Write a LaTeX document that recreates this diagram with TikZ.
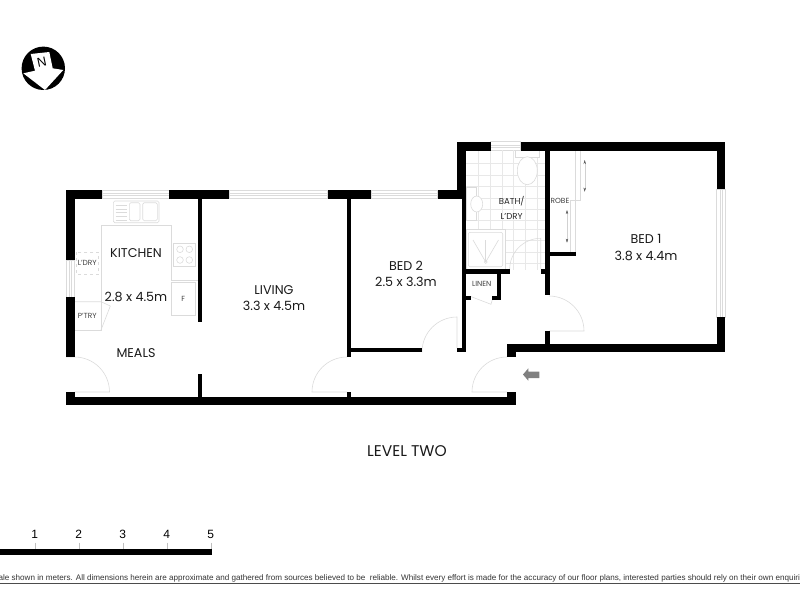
\documentclass[tikz,border=0pt]{standalone}
\usepackage{fontspec}
\setmainfont{Poppins}
\newfontfamily\notefont{Liberation Sans}
\usetikzlibrary{arrows.meta}
\tikzstyle{plan}=[
  x=1pt,y=-1pt,>=stealth
]
\tikzstyle{wall}=[
  fill=black
]
\tikzstyle{fixture}=[
  draw=black!14,line width=0.6pt
]
\tikzstyle{tile}=[
  draw=black!9,line width=0.4pt
]
\tikzstyle{slider}=[
  draw=black!18,line width=0.3pt,{Stealth[black!65,length=4pt,width=2.4pt]}-{Stealth[black!65,length=4pt,width=2.4pt]}
]
\tikzstyle{roomlabel}=[
  inner sep=0pt,text=black!90,font=\fontsize{12.7}{14}\selectfont
]
\tikzstyle{smalllabel}=[
  inner sep=0pt,text=black!75,font=\fontsize{7.4}{8}\selectfont
]
\tikzstyle{bathlabel}=[
  inner sep=0pt,text=black!85,font=\fontsize{8.6}{10}\selectfont
]
\tikzstyle{scalelabel}=[
  inner sep=0pt,font=\notefont\fontsize{12}{14}\selectfont
]
\begin{document}
\begin{tikzpicture}[plan]
  \useasboundingbox (0,0) rectangle (800,600);
  % windows
  \foreach \xa/\ya/\xb/\yb in {102/190/169/198.7,229/190/327.7/198.7,371/190/437.7/198.7,490.7/141.7/520.7/150.7}{
    \draw[fixture] (\xa,\ya) rectangle (\xb,\yb);
    \draw[fixture] (\xa,\ya+3.5) -- (\xb,\ya+3.5);
    \draw[fixture] (\xa,\ya+5.5) -- (\xb,\ya+5.5);
  }
  \foreach \xa/\ya/\xb/\yb in {66/260/74.5/297,716.7/189/725.3/317.3}{
    \draw[fixture] (\xa,\ya) rectangle (\xb,\yb);
    \draw[fixture] (\xa+3.5,\ya) -- (\xa+3.5,\yb);
    \draw[fixture] (\xa+5.5,\ya) -- (\xa+5.5,\yb);
  }
  % bathroom tiles
  \begin{scope}
    \clip (466,150.7) rectangle (545,269.3);
    \foreach \tx in {478,490,502,513.5,525,537}{
      \draw[tile] (\tx,150) -- (\tx,270);
    }
    \foreach \ty in {163,175,186,198,209,220,229,240,252,263}{
      \draw[tile] (466,\ty) -- (545,\ty);
    }
  \end{scope}
  % bathroom fittings
  \draw[fixture,fill=white] (515.3,150.7) rectangle (539.3,157.3);
  \draw[fixture,fill=white] (527.3,170.7) ellipse (10pt and 14pt);
  \draw[fixture,fill=white] (466,187.3) rectangle (476.7,220.7);
  \draw[fixture,fill=white] (476.7,204) ellipse (6pt and 8pt);
  \draw[fixture,fill=white] (466,229.3) rectangle (505.7,269.3);
  \draw[fixture,rounded corners=2pt] (468.3,232.3) rectangle (502.7,266.7);
  \draw[fixture] (485.7,262) circle (1.5pt);
  \foreach \dx in {473,485.7,498.5}{
    \draw[fixture] (485.7,262) -- (\dx,240);
  }
  % robe
  \draw[fixture] (575,150.7) -- (575,251.7);
  \draw[fixture] (580,150.7) -- (580,200.7) -- (570,200.7) -- (570,251.7);
  \draw[slider] (584.7,160) -- (584.7,191.7);
  \draw[slider] (567,210) -- (567,242.7);
  % kitchen joinery
  \draw[fixture] (171.7,225) -- (101,225) -- (101,330) -- (74.5,330);
  \draw[fixture] (74.5,301.7) -- (101,301.7) -- (110.3,306) -- (101,330);
  \draw[fixture] (171.7,225) -- (171.7,280) -- (197.7,280);
  \draw[fixture] (173.3,243.3) rectangle (195.7,266.7);
  \foreach \cx/\cy in {180/249.3,189.3/249.3,180/260,189.3/260}{
    \draw[fixture] (\cx,\cy) circle (3.3pt);
  }
  \draw[fixture] (171.7,282.3) rectangle (195.7,315.7);
  \draw[fixture,rounded corners=1.5pt] (113.3,201) rectangle (159,222.7);
  \draw[fixture,rounded corners=1.5pt] (129.3,202.7) rectangle (140,220.7);
  \draw[fixture,rounded corners=1.5pt] (142.7,202.7) rectangle (157.3,220.7);
  \foreach \ly in {205,208.8,212.6,216.4,220}{
    \draw[fixture] (115.7,\ly) -- (127.3,\ly);
  }
  \draw[fixture,dashed] (76,252.3) rectangle (98.7,274.3);
  % doors
  \draw[fixture] (66,357) -- (74.5,357) arc[start angle=90,end angle=0,radius=35pt] -- (74.5,392);
  \draw[fixture] (347,357) arc[start angle=90,end angle=180,radius=35pt] -- (347,392);
  \draw[fixture] (457,348) -- (457,317) arc[start angle=90,end angle=180,radius=35pt];
  \draw[fixture] (507,357) arc[start angle=90,end angle=180,radius=35pt] -- (507,392);
  \draw[fixture] (549,296) arc[start angle=90,end angle=0,radius=35pt] -- (549,331);
  \draw[fixture] (540.7,269.3) -- (540.7,238.3) arc[start angle=90,end angle=180,radius=31pt];
  \draw[fixture] (470.7,296.5) -- (491,304.3) -- (492.3,299.7);
  % walls
  \foreach \xa/\ya/\xb/\yb in {
    66/190/102/198.7,169/190/229/198.7,327.7/190/371/198.7,437.7/190/466/198.7,
    66/190/74.5/260,66/297/74.5/357,66/392/74.5/405.3,66/396.7/516.3/405.3,
    197.7/198/202.3/322,197.7/374/202.3/397,347.3/198/351.3/356.7,347.3/392/351.3/397,
    351/348/422/352.3,457/348/465.7/352.3,461.7/190/466/352.3,
    457.3/141.7/490.7/150.7,520.7/141.7/725.3/150.7,457.3/141.7/466/198.7,
    545/150/549.7/295.3,549.7/251.7/575.7/256,465.7/269.3/510/273.5,540.7/269.3/545/273.5,
    496.7/273/501/299.7,492.3/295.7/501/299.7,465.7/295.7/470.7/299.7,
    545/330.7/549.7/345,507.3/343.7/725.3/352.3,507.3/344/516.3/357,507.3/392/516.3/405.3,
    716.7/141.7/725.3/189,716.7/317.3/725.3/352.3}{
    \fill[wall] (\xa,\ya) rectangle (\xb,\yb);
  }
  % entry arrow
  \fill[black!50] (523,374.5) -- (528.3,368.3) -- (528.3,371.7) -- (539.3,371.7)
    -- (539.3,378) -- (528.3,378) -- (528.3,380.7) -- cycle;
  % north point
  \fill[black] (43.3,68.3) circle (21.7pt);
  \fill[white] (30.7,54) -- (49.3,52) -- (52.7,68.3) -- (63.3,70) -- (45,90) -- (23.3,73.3) -- (35,70.7) -- cycle;
  \node (north) at (41.7,61.7) [inner sep=0pt,rotate=12,font=\notefont\fontsize{13}{14}\selectfont] {N};
  % room labels
  \node (kitchen) at (136,253.3) [roomlabel] {KITCHEN};
  \node (kitchensize) at (136,296.7) [roomlabel] {2.8 x 4.5m};
  \node (meals) at (136,352.7) [roomlabel] {MEALS};
  \node (living) at (274,290) [roomlabel] {LIVING};
  \node (livingsize) at (274,306) [roomlabel] {3.3 x 4.5m};
  \node (bedtwo) at (406,266) [roomlabel] {BED 2};
  \node (bedtwosize) at (406,282) [roomlabel] {2.5 x 3.3m};
  \node (bedone) at (646,239) [roomlabel] {BED 1};
  \node (bedonesize) at (646,255.5) [roomlabel] {3.8 x 4.4m};
  \node (level) at (407,451) [roomlabel,font=\fontsize{15.5}{17}\selectfont] {LEVEL TWO};
  \node (bath) at (511.7,201.3) [bathlabel] {BATH/};
  \node (bathdry) at (511.7,216) [bathlabel] {L'DRY};
  \node (robe) at (560,201.3) [smalllabel] {ROBE};
  \node (linen) at (481.7,284.3) [smalllabel] {LINEN};
  \node (laundry) at (87.3,263.3) [smalllabel] {L'DRY};
  \node (pantry) at (87.3,316) [smalllabel] {P'TRY};
  \node (fridge) at (183.3,299.3) [smalllabel] {F};
  % scale
  \fill[black] (0,548.7) rectangle (211.7,555);
  \foreach \sx/\sn in {35.3/1,79.3/2,123.3/3,167.3/4,211.3/5}{
    \draw[black!25,line width=0.5pt] (\sx,542.7) -- (\sx,548.7);
    \node (scale\sn) at (\sx-0.5,534.5) [scalelabel] {\sn};
  }
  % disclaimer
  \node (note) at (400,578) [inner sep=0pt,text=black!80,font=\notefont\fontsize{8.1}{10}\selectfont] {Scale shown in meters. All dimensions herein are approximate and gathered from sources believed to be\ \ reliable. Whilst every effort is made for the accuracy of our floor plans, interested parties should rely on their own enquiries.};
  \draw[black!70,line width=0.7pt] (0,583.3) -- (800,583.3);
\end{tikzpicture}
\end{document}
